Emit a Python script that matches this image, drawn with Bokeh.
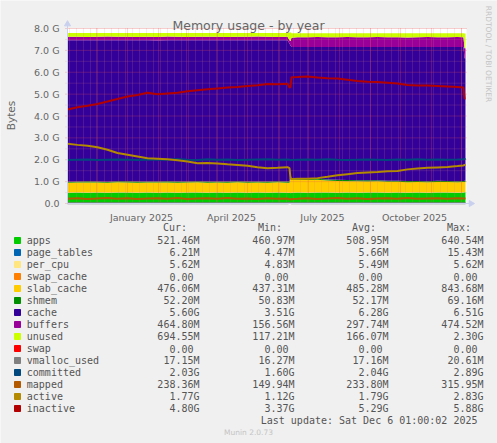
import math
import pandas as pd
from bokeh.plotting import figure
from bokeh.models import ColumnDataSource, Range1d, BoxAnnotation
from bokeh.core.properties import value
from bokeh.embed import file_html
from bokeh.resources import INLINE

# ---------------- data (GiB) ----------------
START = "2024-11-02"
END = "2025-12-06"

days = [0, 10, 20, 30, 40, 50, 60, 70, 80, 90, 100, 110, 120, 130, 140, 150, 160,
        170, 180, 190, 200, 210, 220, 222, 223, 224, 230, 240, 250, 260, 270, 280,
        290, 300, 310, 320, 330, 340, 350, 360, 370, 380, 390, 396, 397, 398]

apps = [0.49, 0.50, 0.49, 0.50, 0.49, 0.50, 0.50, 0.49, 0.50, 0.49, 0.50, 0.49, 0.50,
        0.50, 0.49, 0.50, 0.49, 0.50, 0.49, 0.50, 0.49, 0.50, 0.49, 0.48, 0.47, 0.49,
        0.50, 0.49, 0.50, 0.50, 0.49, 0.50, 0.49, 0.50, 0.50, 0.49, 0.50, 0.49, 0.50,
        0.49, 0.50, 0.50, 0.49, 0.50, 0.51, 0.51]
page_tables = [0.005, 0.005, 0.006, 0.005, 0.005, 0.005, 0.006, 0.005, 0.005, 0.005,
               0.006, 0.005, 0.005, 0.005, 0.006, 0.005, 0.005, 0.006, 0.005, 0.005,
               0.006, 0.005, 0.005, 0.005, 0.006, 0.005, 0.006, 0.005, 0.006, 0.006,
               0.005, 0.006, 0.006, 0.005, 0.006, 0.006, 0.006, 0.007, 0.006, 0.006,
               0.008, 0.006, 0.006, 0.007, 0.006, 0.006]
per_cpu = [0.0047, 0.0047, 0.0047, 0.0047, 0.0047, 0.0048, 0.0048, 0.0048, 0.0048,
           0.0048, 0.0050, 0.0050, 0.0050, 0.0050, 0.0050, 0.0052, 0.0052, 0.0052,
           0.0052, 0.0052, 0.0053, 0.0053, 0.0053, 0.0053, 0.0053, 0.0053, 0.0054,
           0.0054, 0.0054, 0.0054, 0.0054, 0.0055, 0.0055, 0.0055, 0.0055, 0.0055,
           0.0055, 0.0055, 0.0055, 0.0055, 0.0055, 0.0055, 0.0055, 0.0055, 0.0055,
           0.0055]
swap_cache = [0.0, 0.0, 0.0, 0.0, 0.0, 0.0, 0.0, 0.0, 0.0, 0.0, 0.0, 0.0, 0.0, 0.0,
              0.0, 0.0, 0.0, 0.0, 0.0, 0.0, 0.0, 0.0, 0.0, 0.0, 0.0, 0.0, 0.0, 0.0,
              0.0, 0.0, 0.0, 0.0, 0.0, 0.0, 0.0, 0.0, 0.0, 0.0, 0.0, 0.0, 0.0, 0.0,
              0.0, 0.0, 0.0, 0.0]
slab_cache = [0.45, 0.45, 0.46, 0.45, 0.45, 0.46, 0.45, 0.45, 0.45, 0.46, 0.45, 0.45,
              0.45, 0.46, 0.45, 0.45, 0.45, 0.46, 0.45, 0.45, 0.45, 0.46, 0.45, 0.46,
              0.80, 0.60, 0.58, 0.57, 0.57, 0.54, 0.53, 0.51, 0.51, 0.50, 0.50, 0.49,
              0.48, 0.47, 0.47, 0.47, 0.47, 0.47, 0.47, 0.47, 0.465, 0.465]
shmem = [0.050, 0.051, 0.051, 0.051, 0.050, 0.051, 0.051, 0.051, 0.051, 0.050, 0.051,
         0.051, 0.051, 0.051, 0.050, 0.051, 0.051, 0.051, 0.051, 0.050, 0.051, 0.051,
         0.051, 0.066, 0.067, 0.052, 0.051, 0.051, 0.051, 0.050, 0.051, 0.051, 0.051,
         0.051, 0.050, 0.051, 0.051, 0.051, 0.051, 0.050, 0.051, 0.051, 0.051, 0.051,
         0.051, 0.051]
cache = [6.46, 6.45, 6.45, 6.45, 6.46, 6.44, 6.45, 6.46, 6.45, 6.44, 6.45, 6.46, 6.45,
         6.44, 6.46, 6.45, 6.46, 6.44, 6.46, 6.45, 6.46, 6.44, 6.46, 6.30, 5.88, 6.00,
         6.01, 6.03, 6.02, 6.05, 6.07, 6.08, 6.09, 6.09, 6.09, 6.11, 6.11, 6.13, 6.12,
         6.13, 6.12, 6.12, 6.13, 6.12, 5.60, 5.60]
buffers = [0.16, 0.16, 0.15, 0.16, 0.17, 0.16, 0.16, 0.15, 0.16, 0.16, 0.17, 0.16,
           0.15, 0.16, 0.16, 0.16, 0.15, 0.16, 0.16, 0.17, 0.16, 0.15, 0.16, 0.15,
           0.20, 0.43, 0.45, 0.45, 0.46, 0.45, 0.45, 0.46, 0.45, 0.45, 0.46, 0.45,
           0.45, 0.44, 0.45, 0.46, 0.45, 0.45, 0.46, 0.45, 0.454, 0.454]
unused = [0.17, 0.17, 0.18, 0.17, 0.16, 0.17, 0.17, 0.18, 0.17, 0.18, 0.16, 0.17, 0.18,
          0.17, 0.17, 0.17, 0.18, 0.17, 0.17, 0.16, 0.17, 0.18, 0.17, 0.35, 0.40, 0.20,
          0.18, 0.18, 0.17, 0.18, 0.18, 0.17, 0.18, 0.18, 0.17, 0.18, 0.18, 0.19, 0.18,
          0.17, 0.18, 0.18, 0.17, 0.18, 0.678, 0.678]
swap = [0.0, 0.0, 0.0, 0.0, 0.0, 0.0, 0.0, 0.0, 0.0, 0.0, 0.0, 0.0, 0.0, 0.0, 0.0,
        0.0, 0.0, 0.0, 0.0, 0.0, 0.0, 0.0, 0.0, 0.0, 0.0, 0.0, 0.0, 0.0, 0.0, 0.0,
        0.0, 0.0, 0.0, 0.0, 0.0, 0.0, 0.0, 0.0, 0.0, 0.0, 0.0, 0.0, 0.0, 0.0, 0.0, 0.0]

vmalloc_used = [0.016, 0.017, 0.017, 0.016, 0.017, 0.017, 0.017, 0.016, 0.017, 0.017,
                0.017, 0.016, 0.017, 0.017, 0.017, 0.016, 0.017, 0.017, 0.017, 0.017,
                0.016, 0.017, 0.017, 0.020, 0.018, 0.017, 0.017, 0.017, 0.016, 0.017,
                0.017, 0.017, 0.017, 0.016, 0.017, 0.017, 0.017, 0.017, 0.016, 0.017,
                0.017, 0.017, 0.017, 0.017, 0.017, 0.017]
committed = [1.99, 2.00, 2.01, 1.99, 2.00, 2.01, 2.00, 1.99, 2.00, 2.01, 2.00, 2.03,
             2.00, 1.99, 2.02, 2.00, 2.01, 1.99, 2.00, 2.01, 2.02, 2.00, 2.01, 2.00,
             1.98, 1.99, 2.00, 2.01, 2.00, 2.02, 2.00, 1.99, 2.00, 2.01, 2.00, 1.99,
             2.01, 2.00, 2.02, 2.00, 2.01, 2.00, 2.01, 2.02, 2.03, 2.03]
mapped = [0.22, 0.24, 0.21, 0.23, 0.25, 0.22, 0.24, 0.21, 0.23, 0.24, 0.22, 0.25, 0.21,
          0.23, 0.24, 0.22, 0.25, 0.22, 0.23, 0.21, 0.24, 0.22, 0.23, 0.20, 0.17, 0.21,
          0.22, 0.24, 0.21, 0.23, 0.25, 0.22, 0.24, 0.21, 0.23, 0.24, 0.22, 0.25, 0.22,
          0.23, 0.24, 0.22, 0.24, 0.23, 0.233, 0.233]
active = [2.73, 2.68, 2.64, 2.57, 2.46, 2.31, 2.23, 2.15, 2.07, 2.05, 2.02, 1.98, 1.92,
          1.84, 1.85, 1.83, 1.79, 1.76, 1.73, 1.66, 1.61, 1.63, 1.66, 1.62, 1.13, 1.12,
          1.13, 1.13, 1.16, 1.22, 1.29, 1.34, 1.39, 1.42, 1.44, 1.47, 1.49, 1.56, 1.60,
          1.63, 1.65, 1.67, 1.71, 1.74, 1.76, 1.77]
inactive = [4.30, 4.40, 4.47, 4.55, 4.66, 4.78, 4.89, 4.96, 5.06, 4.99, 5.03, 5.06, 5.13,
            5.18, 5.22, 5.26, 5.30, 5.33, 5.37, 5.41, 5.46, 5.45, 5.47, 5.30, 5.32, 5.77,
            5.78, 5.81, 5.76, 5.73, 5.71, 5.66, 5.60, 5.57, 5.55, 5.52, 5.49, 5.42, 5.39,
            5.39, 5.37, 5.35, 5.33, 5.30, 4.80, 4.80]

area_names = ["apps", "page_tables", "per_cpu", "swap_cache", "slab_cache", "shmem",
              "cache", "buffers", "unused", "swap"]
area_colors = ["#00CC00", "#0066B3", "#FFE680", "#FF8000", "#FFCC00", "#008F00",
               "#330099", "#990099", "#CCFF00", "#FF0000"]
line_names = ["vmalloc_used", "committed", "mapped", "active", "inactive"]
line_colors = ["#808080", "#00487D", "#B35A00", "#B38A00", "#B30000"]

cur_vals = ["521.46M", "6.21M", "5.62M", "0.00", "476.06M", "52.20M", "5.60G", "464.80M",
            "694.55M", "0.00", "17.15M", "2.03G", "238.36M", "1.77G", "4.80G"]
min_vals = ["460.97M", "4.47M", "4.83M", "0.00", "437.31M", "50.83M", "3.51G", "156.56M",
            "117.21M", "0.00", "16.27M", "1.60G", "149.94M", "1.12G", "3.37G"]
avg_vals = ["508.95M", "5.66M", "5.49M", "0.00", "485.28M", "52.17M", "6.28G", "297.74M",
            "166.07M", "0.00", "17.16M", "2.04G", "233.80M", "1.79G", "5.29G"]
max_vals = ["640.54M", "15.43M", "5.62M", "0.00", "843.68M", "69.16M", "6.51G", "474.52M",
            "2.30G", "0.00", "20.61M", "2.89G", "315.95M", "2.83G", "5.88G"]
col_heads = ["Cur:", "Min:", "Avg:", "Max:"]

y_ticks = [0, 1, 2, 3, 4, 5, 6, 7, 8]
y_tick_labels = ["0.0", "1.0 G", "2.0 G", "3.0 G", "4.0 G", "5.0 G", "6.0 G", "7.0 G", "8.0 G"]
x_label_dates = ["2025-01-15", "2025-04-15", "2025-07-15", "2025-10-15"]
x_labels = ["January 2025", "April 2025", "July 2025", "October 2025"]

# ---------------- geometry of the canvas ----------------
W, H = 497, 443
PL, PR, PT, PB = 67, 466, 28, 203          # graph area in canvas pixels


def ms(t):
    return pd.Timestamp(t).value / 1e6


t0, t1 = ms(START), ms(END)
ms_per_px = (t1 - t0) / (PR - PL)
g_per_px = 8.0 / (PB - PT)
x_rng = Range1d(t0 - PL * ms_per_px, t1 + (W - PR) * ms_per_px)
y_rng = Range1d(-(H - PB) * g_per_px, 8.0 + PT * g_per_px)

p = figure(width=W, height=H, x_range=x_rng, y_range=y_rng, title=None,
           output_backend="svg", toolbar_location=None, min_border=0,
           x_axis_location=None, y_axis_location=None,
           background_fill_color="#F0F0F0", border_fill_color="#F0F0F0",
           outline_line_color=None)
p.grid.visible = False
p.extra_x_ranges = {"px": Range1d(0, W)}
p.extra_y_ranges = {"px": Range1d(H, 0)}

# white canvas of the graph area
p.add_layout(BoxAnnotation(left=t0, right=t1, bottom=0, top=8, fill_color="white",
                           fill_alpha=1.0, line_color=None, level="underlay"))

# ---------------- series ----------------
x = pd.to_datetime(START) + pd.to_timedelta(days, unit="D")
src = ColumnDataSource(dict(x=x, apps=apps, page_tables=page_tables, per_cpu=per_cpu,
                            swap_cache=swap_cache, slab_cache=slab_cache, shmem=shmem,
                            cache=cache, buffers=buffers, unused=unused, swap=swap,
                            vmalloc_used=vmalloc_used, committed=committed, mapped=mapped,
                            active=active, inactive=inactive))
p.varea_stack(stackers=area_names, x="x", color=area_colors, source=src)

# ---------------- grid (over the areas, like rrdtool) ----------------
weeks = [ms(w) for w in pd.date_range("2024-11-04", "2025-12-01", freq="7D")]
months = [ms(m) for m in pd.date_range("2024-12-01", "2025-12-01", freq="MS")]
half = [v + 0.5 for v in y_ticks[:-1]]
MINC, MINA = "#E08080", 0.35
MAJC, MAJA = "#F05050", 0.5
p.segment(x0=weeks, y0=[0] * len(weeks), x1=weeks, y1=[8] * len(weeks),
          line_color=MINC, line_alpha=MINA, line_dash="1 1", line_width=1)
p.segment(x0=[t0 - 2 * ms_per_px] * len(half), y0=half, x1=[t1] * len(half), y1=half,
          line_color=MINC, line_alpha=MINA, line_dash="1 1", line_width=1)
p.segment(x0=months, y0=[0] * len(months), x1=months, y1=[8] * len(months),
          line_color=MAJC, line_alpha=MAJA, line_dash="1 1", line_width=1)
p.segment(x0=[t0 - 2 * ms_per_px] * len(y_ticks), y0=y_ticks, x1=[t1] * len(y_ticks),
          y1=y_ticks, line_color=MAJC, line_alpha=MAJA, line_dash="1 1", line_width=1)

# ---------------- lines ----------------
for nm, c in zip(line_names, line_colors):
    p.line(x="x", y=nm, source=src, line_color=c, line_width=2)

# ---------------- axes ----------------
AX = "#C8D0EE"
p.segment(x0=[t0], y0=[0], x1=[t0], y1=[8.2], line_color=AX, line_width=1)
p.segment(x0=[t0], y0=[0], x1=[t1 + 3 * ms_per_px], y1=[0], line_color=AX, line_width=1)
p.scatter(x=[t0], y=[8.2], marker="triangle", size=6, fill_color=AX, line_color=AX)
p.scatter(x=[t1 + 4.5 * ms_per_px], y=[0], marker="triangle", size=6, angle=-math.pi / 2,
          fill_color=AX, line_color=AX)

FONT = value("DejaVu Sans")
TXT = "#666666"
p.text(x=[t0] * len(y_ticks), y=y_ticks, text=y_tick_labels, x_offset=-8,
       text_font=FONT, text_font_size="9.5px", text_color=TXT, text_align="right",
       text_baseline="middle")
p.text(x=[ms(d) for d in x_label_dates], y=[0] * len(x_labels), text=x_labels,
       y_offset=13.7, text_font=FONT, text_font_size="9.5px", text_color=TXT,
       text_align="center", text_baseline="alphabetic")

# ---------------- titles / side texts (canvas pixels) ----------------
p.text(x=[248], y=[24.7], text=["Memory usage - by year"], text_font=FONT,
       text_font_size="12.5px", text_color=TXT, text_align="center",
       text_baseline="alphabetic", x_range_name="px", y_range_name="px")
p.text(x=[10.5], y=[115], text=["Bytes"], angle=math.pi / 2, text_font=FONT,
       text_font_size="10.5px", text_color=TXT, text_align="center",
       text_baseline="middle", x_range_name="px", y_range_name="px")
p.text(x=[487.5], y=[53.5], text=["RRDTOOL / TOBI OETIKER"], angle=-math.pi / 2,
       text_font=FONT, text_font_size="7.5px", text_color="#C4C4C4",
       text_align="center", text_baseline="middle", x_range_name="px",
       y_range_name="px")

# ---------------- legend table (canvas pixels) ----------------
names = area_names + line_names
colors = area_colors + line_colors
row_y = [240 + 12 * i for i in range(len(names))]
MONO = value("DejaVu Sans Mono")
CW = 6.02
LTXT = "#555555"

p.rect(x=[17] * len(names), y=row_y, width=6, height=6, fill_color=colors,
       line_color=colors, x_range_name="px", y_range_name="px")
p.text(x=[26.3] * len(names), y=row_y, text=names, text_font=MONO,
       text_font_size="10px", text_color=LTXT, text_align="left",
       text_baseline="middle", x_range_name="px", y_range_name="px")

col_right = [199, 294, 388, 483]
for right, head, vals in zip(col_right, col_heads, [cur_vals, min_vals, avg_vals, max_vals]):
    xs = [right - (0 if v[-1].isalpha() else CW) for v in vals]
    p.text(x=xs, y=row_y, text=vals, text_font=MONO, text_font_size="10px",
           text_color=LTXT, text_align="right", text_baseline="middle",
           x_range_name="px", y_range_name="px")
    p.text(x=[right - 12.5], y=[227], text=[head], text_font=MONO,
           text_font_size="10px", text_color=LTXT, text_align="right",
           text_baseline="middle", x_range_name="px", y_range_name="px")

p.text(x=[483], y=[420], text=["Last update: Sat Dec  6 01:00:02 2025"], text_font=MONO,
       text_font_size="10px", text_color=LTXT, text_align="right",
       text_baseline="middle", x_range_name="px", y_range_name="px")
p.text(x=[248], y=[432], text=["Munin 2.0.73"], text_font=FONT,
       text_font_size="7.5px", text_color="#C4C4C4", text_align="center",
       text_baseline="middle", x_range_name="px", y_range_name="px")

open("out.html", "w").write(file_html(p, INLINE))
